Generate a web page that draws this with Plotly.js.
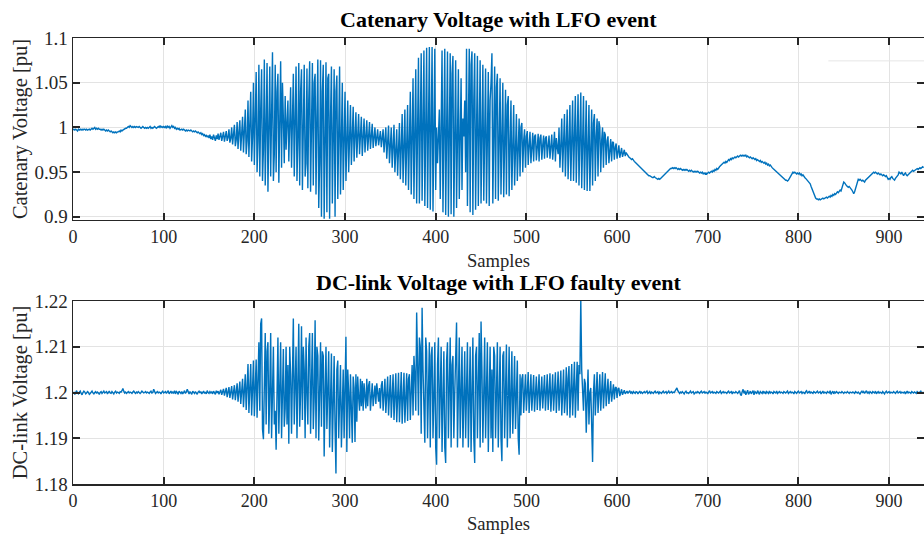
<!DOCTYPE html>
<html>
<head>
<meta charset="utf-8">
<script src="https://cdn.plot.ly/plotly-3.0.1.min.js"></script>
<style>html,body{margin:0;padding:0;background:#fff;}#chart{width:924px;height:534px;}</style>
</head>
<body>
<div id="chart"></div>
<script>
// Catenary voltage [pu], one value per sample (x = sample index)
const catenaryVoltage = [
0.997,0.998,0.997,0.998,0.997,0.996,0.998,0.997,0.998,0.997,
0.998,0.997,0.998,0.998,0.997,0.998,0.997,0.998,0.998,0.997,
0.998,0.999,0.998,0.999,1.000,0.998,0.999,0.998,0.999,0.998,
0.998,0.997,0.998,0.997,0.998,0.997,0.996,0.997,0.996,0.997,
0.996,0.995,0.996,0.995,0.994,0.995,0.994,0.995,0.994,0.995,
0.995,0.996,0.995,0.997,0.996,0.997,0.998,0.998,0.999,0.999,
1.000,1.001,1.000,1.002,1.001,1.000,1.001,1.000,1.001,1.000,
1.001,1.000,1.000,1.001,1.000,0.999,1.000,1.001,1.000,0.999,
1.000,0.999,1.000,0.999,1.000,1.001,0.999,1.000,0.999,1.000,
1.001,1.000,0.999,1.000,1.001,1.000,1.002,1.000,1.001,1.000,
1.001,1.000,1.001,0.999,1.002,1.000,1.001,0.999,1.000,1.002,
1.000,1.001,0.999,1.000,0.998,0.999,0.998,0.999,0.997,0.998,
0.998,0.997,0.998,0.997,0.996,0.997,0.996,0.997,0.996,0.996,
0.997,0.996,0.995,0.996,0.995,0.996,0.995,0.994,0.995,0.994,
0.993,0.994,0.992,0.993,0.991,0.992,0.990,0.991,0.989,0.991,
0.988,0.992,0.987,0.990,0.986,0.992,0.988,0.985,0.991,0.987,
0.993,0.986,0.990,0.994,0.985,0.991,0.995,0.984,0.990,0.996,
0.985,0.989,0.998,0.983,0.988,1.000,0.981,0.992,1.003,0.979,
0.986,1.006,0.976,0.995,1.008,0.974,0.990,1.012,0.972,0.998,
1.020,0.970,0.985,1.030,0.967,1.003,1.040,0.962,0.990,1.050,
0.958,1.010,1.062,0.950,0.985,1.070,0.945,1.020,1.065,0.940,
0.975,1.076,0.935,1.000,1.072,0.928,0.990,1.068,0.945,1.030,
1.084,0.940,0.970,1.070,0.950,1.040,1.060,0.938,0.995,1.074,
0.955,1.050,1.010,0.960,1.035,0.975,1.005,1.030,0.962,1.015,
1.045,0.955,1.000,1.060,0.945,1.025,1.068,0.940,0.985,1.072,
0.935,1.040,1.065,0.930,1.000,1.070,0.945,0.960,1.066,0.932,
1.030,1.074,0.928,0.985,1.072,0.935,1.050,1.060,0.925,1.010,
1.076,0.910,0.960,1.075,0.900,1.040,1.070,0.898,0.990,1.073,
0.905,1.055,1.060,0.898,1.010,1.068,0.915,0.970,1.065,0.900,
1.040,1.058,0.920,0.990,1.068,0.925,1.030,1.050,0.930,1.000,
1.040,0.940,0.975,1.030,0.950,1.005,1.025,0.958,0.990,1.023,
0.962,1.000,1.017,0.966,0.990,1.015,0.970,1.005,1.012,0.968,
0.995,1.010,0.972,1.000,1.008,0.974,0.990,1.006,0.976,0.998,
1.004,0.977,0.990,1.000,0.979,0.995,0.998,0.980,0.990,0.996,
0.978,0.992,0.998,0.972,0.990,1.000,0.965,0.985,1.002,0.960,
0.980,1.000,0.955,0.975,1.003,0.950,0.990,0.998,0.946,0.985,
1.005,0.942,0.975,1.015,0.938,1.000,1.020,0.935,0.990,1.025,
0.930,1.010,1.040,0.925,0.985,1.055,0.920,1.030,1.065,0.915,
0.990,1.078,0.915,1.050,1.083,0.918,1.000,1.086,0.912,1.040,
1.089,0.910,0.990,1.090,0.908,1.050,1.090,0.906,1.000,1.088,
0.930,1.000,0.960,0.990,1.020,0.920,1.060,1.086,0.905,0.980,
1.088,0.902,1.040,1.085,0.900,1.000,1.083,0.903,1.060,1.080,
0.900,0.990,1.075,0.910,1.040,1.065,0.920,0.980,1.055,0.930,
1.010,0.990,1.030,0.950,1.088,0.912,1.000,1.088,0.905,1.070,
1.085,0.902,1.030,1.083,0.908,0.990,1.080,0.912,1.050,1.075,
0.915,1.000,1.070,0.918,1.040,1.066,0.915,0.980,1.062,0.912,
1.030,1.050,1.083,0.915,0.990,1.068,0.920,1.045,1.060,0.918,
0.985,1.055,0.925,1.030,1.050,0.922,0.990,1.042,0.925,1.025,
1.035,0.923,0.980,1.030,0.930,1.010,1.025,0.935,0.990,1.015,
0.940,0.975,1.010,0.945,1.000,1.005,0.950,0.985,0.998,0.955,
0.990,0.996,0.958,0.980,0.995,0.960,0.985,0.994,0.962,0.990,
0.992,0.963,0.978,0.993,0.962,0.988,0.992,0.964,0.980,0.991,
0.965,0.988,0.990,0.966,0.980,0.991,0.965,0.986,0.992,0.964,
0.982,0.995,0.962,0.988,0.978,0.970,1.000,0.955,0.980,1.010,
0.950,0.990,1.015,0.945,1.000,1.020,0.942,0.985,1.025,0.940,
1.010,1.030,0.940,0.995,1.035,0.938,1.020,1.037,0.935,1.000,
1.039,0.932,1.015,1.035,0.930,0.990,1.030,0.929,1.010,1.025,
0.929,0.985,1.020,0.935,1.005,1.015,0.940,0.990,1.010,0.945,
1.007,1.000,0.950,0.985,1.000,0.955,0.995,0.992,0.958,0.985,
0.990,0.960,0.980,0.987,0.962,0.984,0.983,0.964,0.978,0.982,
0.965,0.976,0.980,0.966,0.975,0.977,0.967,0.973,0.975,0.968,
0.972,0.970,0.968,0.967,0.966,0.965,0.964,0.965,0.963,0.962,
0.961,0.960,0.958,0.957,0.956,0.955,0.954,0.953,0.952,0.951,
0.950,0.949,0.948,0.948,0.947,0.946,0.946,0.945,0.945,0.944,
0.944,0.945,0.944,0.943,0.943,0.942,0.943,0.942,0.943,0.944,
0.945,0.946,0.947,0.949,0.950,0.951,0.952,0.953,0.953,0.954,
0.954,0.955,0.954,0.955,0.954,0.955,0.954,0.953,0.954,0.953,
0.954,0.953,0.952,0.953,0.952,0.953,0.952,0.953,0.952,0.951,
0.952,0.951,0.952,0.951,0.950,0.951,0.950,0.951,0.950,0.951,
0.950,0.949,0.950,0.949,0.950,0.948,0.949,0.948,0.949,0.948,
0.949,0.950,0.949,0.950,0.951,0.950,0.952,0.951,0.953,0.952,
0.954,0.953,0.955,0.956,0.957,0.958,0.959,0.960,0.961,0.960,
0.962,0.961,0.963,0.964,0.963,0.965,0.964,0.966,0.965,0.966,
0.967,0.966,0.967,0.968,0.967,0.968,0.969,0.968,0.969,0.968,
0.969,0.968,0.969,0.967,0.968,0.967,0.966,0.967,0.966,0.965,
0.966,0.965,0.964,0.965,0.963,0.964,0.963,0.962,0.963,0.961,
0.962,0.961,0.960,0.961,0.959,0.960,0.958,0.959,0.957,0.958,
0.956,0.955,0.954,0.953,0.952,0.951,0.950,0.949,0.948,0.947,
0.946,0.945,0.944,0.944,0.943,0.942,0.941,0.941,0.940,0.941,
0.943,0.945,0.947,0.949,0.950,0.949,0.950,0.949,0.948,0.949,
0.948,0.949,0.947,0.948,0.946,0.947,0.945,0.944,0.943,0.942,
0.941,0.940,0.939,0.937,0.934,0.931,0.928,0.925,0.923,0.921,
0.920,0.920,0.919,0.920,0.919,0.920,0.920,0.921,0.920,0.921,
0.921,0.922,0.921,0.922,0.923,0.922,0.924,0.923,0.925,0.924,
0.926,0.925,0.927,0.928,0.927,0.929,0.930,0.929,0.932,0.936,
0.939,0.938,0.936,0.935,0.934,0.933,0.934,0.933,0.932,0.930,
0.928,0.926,0.928,0.932,0.937,0.941,0.942,0.941,0.942,0.941,
0.940,0.941,0.940,0.939,0.941,0.942,0.943,0.944,0.945,0.946,
0.947,0.948,0.949,0.950,0.949,0.950,0.949,0.948,0.949,0.948,
0.947,0.948,0.947,0.946,0.947,0.946,0.945,0.946,0.944,0.942,
0.943,0.942,0.944,0.945,0.943,0.942,0.941,0.943,0.944,0.945,
0.947,0.950,0.949,0.948,0.950,0.947,0.946,0.948,0.949,0.947,
0.946,0.947,0.948,0.949,0.950,0.951,0.952,0.951,0.952,0.953,
0.953,0.954,0.953,0.954,0.955,0.954,0.955,0.956,0.955
];

// DC-link voltage [pu], one value per sample (x = sample index)
const dcLinkVoltage = [
1.1998,1.2000,1.1996,1.2002,1.2004,1.1999,1.1997,1.2001,1.2003,1.1998,
1.1995,1.2000,1.2003,1.2001,1.1997,1.1999,1.2002,1.2000,1.1996,1.1998,
1.2001,1.2003,1.1999,1.1997,1.2000,1.2002,1.1998,1.2001,1.1999,1.1996,
1.2000,1.2002,1.1998,1.2001,1.2003,1.1999,1.2000,1.2002,1.1997,1.2000,
1.2003,1.1999,1.1998,1.2002,1.2000,1.1997,1.2001,1.2003,1.1999,1.2001,
1.2000,1.1998,1.2002,1.2001,1.2004,1.2009,1.2003,1.1999,1.2001,1.1998,
1.2000,1.2002,1.1999,1.2001,1.2000,1.1998,1.2001,1.2003,1.2000,1.1998,
1.2001,1.1999,1.2002,1.2000,1.1998,1.2000,1.2003,1.2001,1.1999,1.2000,
1.2002,1.1999,1.2001,1.2000,1.1998,1.2001,1.2003,1.1999,1.2000,1.2007,
1.2001,1.1998,1.2000,1.2002,1.1999,1.2001,1.2000,1.1997,1.2001,1.2003,
1.1999,1.2000,1.2002,1.1998,1.2001,1.2004,1.1997,1.2000,1.2003,1.1998,
1.2001,1.1999,1.2004,1.1997,1.2002,1.2000,1.1996,1.2003,1.2001,1.1998,
1.2002,1.1997,1.2000,1.2004,1.1998,1.2001,1.2007,1.1999,1.1997,1.2002,
1.2000,1.1996,1.2003,1.2001,1.1998,1.2002,1.1999,1.1996,1.2001,1.2003,
1.1999,1.2002,1.1997,1.2000,1.2003,1.1998,1.2001,1.1997,1.2004,1.2000,
1.1998,1.2002,1.1999,1.2001,1.1997,1.2003,1.2000,1.1996,1.2004,1.1999,
1.2003,1.1996,1.2001,1.2006,1.1995,1.2002,1.2008,1.1993,1.2000,1.2010,
1.1990,1.2003,1.2012,1.1988,1.2000,1.2014,1.1985,1.2005,1.2016,1.1983,
1.2000,1.2020,1.1980,1.2010,1.2024,1.1975,1.1995,1.2030,1.1968,1.2010,
1.2040,1.1962,1.2000,1.2062,1.1955,1.2030,1.2062,1.1950,1.2010,1.2070,
1.1948,1.2040,1.2072,1.1945,1.2020,1.2110,1.1960,1.2150,1.2162,1.1920,
1.1898,1.2080,1.2130,1.1930,1.2090,1.2110,1.1910,1.2000,1.2130,1.1900,
1.2060,1.2100,1.1930,1.1960,1.1875,1.2080,1.2120,1.1910,1.2020,1.2110,
1.1900,1.2000,1.2095,1.1925,1.1965,1.2100,1.1930,1.2060,1.1888,1.2100,
1.2040,1.1910,1.2080,1.2162,1.1930,1.2000,1.2100,1.1900,1.2040,1.2150,
1.1925,1.2000,1.2145,1.1940,1.2100,1.2050,1.1900,1.2120,1.2000,1.1930,
1.2100,1.2130,1.1910,1.2060,1.2130,1.1920,1.1990,1.2158,1.1900,1.2100,
1.2080,1.1895,1.2000,1.2110,1.1925,1.2090,1.2080,1.1860,1.2000,1.2100,
1.1920,1.2050,1.2090,1.1880,1.2010,1.2085,1.1870,1.1960,1.2080,1.1920,
1.1823,1.2050,1.2070,1.1900,1.2010,1.2060,1.1880,1.2000,1.2050,1.1900,
1.2030,1.2122,1.1870,1.2050,1.2000,1.1900,1.2040,1.1960,1.1890,1.2035,
1.2010,1.1892,1.2040,1.1936,1.2035,1.1990,1.1960,1.2030,1.1970,1.2025,
1.1960,1.2020,1.2000,1.1965,1.2030,1.1970,1.2015,1.2025,1.1960,1.2010,
1.2020,1.1970,1.2005,1.2015,1.1975,1.2020,1.2000,1.1980,1.2010,1.1965,
1.2015,1.2025,1.1960,1.2000,1.2030,1.1955,1.2010,1.2035,1.1950,1.2000,
1.2038,1.1945,1.2020,1.2040,1.1940,1.2005,1.2042,1.1935,1.2010,1.2043,
1.1935,1.2000,1.2045,1.1932,1.2020,1.2043,1.1934,1.1990,1.2042,1.1938,
1.2030,1.2040,1.1940,1.2000,1.2060,1.1950,1.2080,1.2040,1.1960,1.2175,
1.2000,1.1950,1.2120,1.2100,1.1910,1.2185,1.2050,1.1930,1.1890,1.2120,
1.2090,1.1900,1.2010,1.2110,1.1880,1.2080,1.2100,1.1900,1.1990,1.2110,
1.1880,1.1842,1.2060,1.2120,1.1900,1.2020,1.2100,1.1870,1.2040,1.2090,
1.1880,1.1846,1.2070,1.2110,1.1900,1.2000,1.2120,1.1880,1.2060,1.2080,
1.1900,1.2000,1.2110,1.2153,1.1880,1.2040,1.2120,1.1900,1.1990,1.2100,
1.1880,1.2060,1.2090,1.1900,1.2000,1.2110,1.1880,1.2040,1.2100,1.1870,
1.1990,1.2120,1.1900,1.1846,1.2080,1.2100,1.1900,1.2020,1.2130,1.1880,
1.2155,1.2050,1.1890,1.2000,1.2120,1.1900,1.2060,1.2110,1.1870,1.2000,
1.2100,1.1900,1.2050,1.1870,1.2100,1.2080,1.1900,1.2000,1.2110,1.1880,
1.2060,1.2100,1.1900,1.1850,1.2080,1.2090,1.1900,1.2010,1.2105,1.1880,
1.2040,1.2100,1.1900,1.1980,1.2090,1.1910,1.2030,1.2080,1.1920,1.2000,
1.2070,1.1900,1.1864,1.2040,1.1950,1.2030,1.2040,1.1955,1.2010,1.2040,
1.1960,1.2000,1.2045,1.1955,1.2020,1.2040,1.1960,1.2000,1.2038,1.1958,
1.2020,1.2035,1.1962,1.2000,1.2040,1.1960,1.2015,1.2035,1.1965,1.2005,
1.2038,1.1960,1.2020,1.2040,1.1962,1.2000,1.2042,1.1958,1.2015,1.2040,
1.1960,1.2000,1.2044,1.1955,1.2020,1.2046,1.1960,1.2000,1.2048,1.1950,
1.2020,1.2050,1.1955,1.1990,1.2055,1.1950,1.2030,1.2058,1.1945,1.2000,
1.2062,1.1950,1.2030,1.2067,1.1945,1.2000,1.2067,1.1960,1.2060,1.2040,
1.2203,1.2050,1.2000,1.1960,1.2030,1.2020,1.1912,1.2010,1.2050,1.1930,
1.2000,1.2010,1.1920,1.1848,1.2000,1.2040,1.1950,1.2010,1.2045,1.1955,
1.2000,1.2040,1.1960,1.2020,1.2045,1.1965,1.2000,1.2042,1.1970,1.2020,
1.2030,1.1975,1.2010,1.2025,1.1980,1.2005,1.2018,1.1985,1.2010,1.2012,
1.1988,1.2008,1.2010,1.1992,1.2004,1.2007,1.1995,1.2003,1.2005,1.1997,
1.2002,1.2003,1.1998,1.2001,1.2004,1.1999,1.2001,1.1997,1.2002,1.2000,
1.1998,1.2002,1.2001,1.1997,1.2000,1.2003,1.1999,1.2001,1.1998,1.2000,
1.2002,1.1999,1.2001,1.2003,1.1998,1.2000,1.2002,1.1997,1.2001,1.2000,
1.1998,1.2001,1.2003,1.1999,1.2000,1.2002,1.1996,1.2001,1.2000,1.1998,
1.2001,1.2003,1.1999,1.2000,1.2002,1.1998,1.2001,1.2003,1.1999,1.2000,
1.2002,1.1999,1.2001,1.2000,1.2003,1.2006,1.2010,1.2004,1.2000,1.1998,
1.2001,1.1999,1.2002,1.2000,1.1997,1.2001,1.2003,1.1999,1.2000,1.1998,
1.2001,1.2003,1.1999,1.2000,1.2002,1.1997,1.2000,1.2001,1.1999,1.2002,
1.2000,1.1998,1.2001,1.2003,1.1999,1.2000,1.2002,1.1998,1.2001,1.2000,
1.1997,1.2001,1.2004,1.1999,1.2000,1.2002,1.1998,1.2001,1.2000,1.1998,
1.2002,1.2000,1.1999,1.2001,1.2003,1.1998,1.2000,1.2002,1.1999,1.2001,
1.2000,1.1998,1.2001,1.2003,1.1999,1.2000,1.2002,1.1997,1.2001,1.2000,
1.1999,1.2002,1.2000,1.1998,1.2001,1.2004,1.1996,1.1993,1.2002,1.2007,
1.1998,1.2004,1.1995,1.2001,1.2005,1.1996,1.2000,1.2003,1.1997,1.2001,
1.2004,1.1995,1.2002,1.2000,1.1997,1.2004,1.1999,1.1996,1.2002,1.2000,
1.1998,1.2003,1.1999,1.2001,1.1997,1.2002,1.2000,1.1998,1.2003,1.1999,
1.2001,1.2000,1.1997,1.2002,1.2000,1.1999,1.2003,1.1998,1.2000,1.2002,
1.1999,1.2001,1.2000,1.1998,1.2002,1.2000,1.1999,1.2001,1.2003,1.1998,
1.2000,1.2002,1.1999,1.2001,1.2000,1.1997,1.2002,1.2000,1.1998,1.2001,
1.2003,1.1999,1.2000,1.2002,1.1998,1.2001,1.2000,1.1997,1.2002,1.2004,
1.1999,1.2000,1.2003,1.1998,1.2001,1.2000,1.1998,1.2002,1.2000,1.1999,
1.2001,1.2003,1.1999,1.2000,1.2002,1.1997,1.2000,1.2003,1.1998,1.2001,
1.2000,1.1998,1.2002,1.2001,1.1999,1.2004,1.1996,1.2000,1.2003,1.1997,
1.2001,1.1999,1.2002,1.2000,1.1998,1.2001,1.2000,1.1999,1.2002,1.2000,
1.1998,1.2001,1.2000,1.1999,1.2002,1.2000,1.1998,1.2001,1.2000,1.1999,
1.2001,1.2000,1.1998,1.2002,1.2000,1.1999,1.2001,1.1998,1.1996,1.2001,
1.2003,1.1999,1.2002,1.1998,1.2001,1.2004,1.1999,1.2001,1.1998,1.2002,
1.2000,1.1998,1.2002,1.2000,1.1999,1.2003,1.1997,1.2000,1.2002,1.1998,
1.2001,1.2000,1.1998,1.2002,1.2000,1.1997,1.2001,1.2003,1.1999,1.2000,
1.2002,1.1998,1.2001,1.2000,1.1999,1.2002,1.2000,1.1998,1.2001,1.2003,
1.1999,1.2000,1.2002,1.1998,1.2001,1.2000,1.1999,1.2002,1.1997,1.2000,
1.2003,1.1999,1.2001,1.2000,1.1998,1.2002,1.2000,1.1999,1.2001,1.2000,
1.1998,1.2002,1.2000,1.1999,1.2001,1.2003,1.1999,1.2000,1.2001
];

const xTicks = [0,100,200,300,400,500,600,700,800,900];
const catTicks = [0.9,0.95,1,1.05,1.1];
const catTickText = ['0.9','0.95','1','1.05','1.1'];
const dcTicks = [1.18,1.19,1.2,1.21,1.22];
const dcTickText = ['1.18','1.19','1.2','1.21','1.22'];
const titleTop = 'Catenary Voltage with LFO event';
const titleBottom = 'DC-link Voltage with LFO faulty event';
const xLabel = 'Samples';
const yLabelTop = 'Catenary Voltage [pu]';
const yLabelBottom = 'DC-link Voltage [pu]';

const FONT = 'Liberation Serif, Times New Roman, serif';
const lineColor = '#0072BD';
const txt = '#262626';

const traces = [
  {y: catenaryVoltage, type: 'scatter', mode: 'lines', xaxis: 'x', yaxis: 'y',
   line: {color: lineColor, width: 1.4}, hoverinfo: 'skip'},
  {y: dcLinkVoltage, type: 'scatter', mode: 'lines', xaxis: 'x2', yaxis: 'y2',
   line: {color: lineColor, width: 1.4}, hoverinfo: 'skip'}
];

function xAxis(anchor) {
  return {
    anchor: anchor, domain: [0, 1], range: [0, 938.5],
    tickmode: 'array', tickvals: xTicks, ticktext: xTicks.map(String),
    ticks: 'inside', ticklen: 7, tickwidth: 2, tickcolor: txt,
    showline: true, linecolor: txt, linewidth: 1.5, mirror: 'ticks',
    showgrid: true, gridcolor: '#e3e3e3', gridwidth: 1, zeroline: false,
    tickfont: {family: FONT, size: 18, color: txt},
    title: {text: xLabel, font: {family: FONT, size: 18.6, color: txt}, standoff: 8},
    automargin: false
  };
}
function yAxis(anchor, domain, range, vals, text, label) {
  return {
    anchor: anchor, domain: domain, range: range,
    tickmode: 'array', tickvals: vals, ticktext: text,
    ticks: 'inside', ticklen: 7, tickwidth: 2, tickcolor: txt,
    showline: true, linecolor: txt, linewidth: 1.5, mirror: 'ticks',
    showgrid: true, gridcolor: '#e3e3e3', gridwidth: 1, zeroline: false,
    tickfont: {family: FONT, size: 19, color: txt},
    title: {text: label, font: {family: FONT, size: 20.5, color: txt}, standoff: 1},
    automargin: false
  };
}

const layout = {
  width: 924, height: 534,
  margin: {l: 73, r: 0, t: 38, b: 50},
  paper_bgcolor: '#ffffff', plot_bgcolor: '#ffffff',
  showlegend: false,
  xaxis: xAxis('y'),
  yaxis: yAxis('x', [0.592, 1], [0.8965, 1.1], catTicks, catTickText, yLabelTop),
  xaxis2: xAxis('y2'),
  yaxis2: yAxis('x2', [0, 0.4103], [1.18, 1.22], dcTicks, dcTickText, yLabelBottom),
  annotations: [
    {text: '<b>' + titleTop + '</b>', xref: 'paper', yref: 'paper', x: 0.5, y: 1, yshift: 4,
     xanchor: 'center', yanchor: 'bottom', showarrow: false,
     font: {family: FONT, size: 22, color: '#000'}},
    {text: '<b>' + titleBottom + '</b>', xref: 'paper', yref: 'paper', x: 0.5, y: 0.4103, yshift: 4,
     xanchor: 'center', yanchor: 'bottom', showarrow: false,
     font: {family: FONT, size: 22, color: '#000'}}
  ],
  shapes: [
    {type: 'line', xref: 'x', yref: 'y', x0: 833, x1: 938.5, y0: 1.0744, y1: 1.0744,
     line: {color: '#e6e6e6', width: 1}}
  ]
};

Plotly.newPlot('chart', traces, layout, {staticPlot: true, displayModeBar: false});
</script>
</body>
</html>
